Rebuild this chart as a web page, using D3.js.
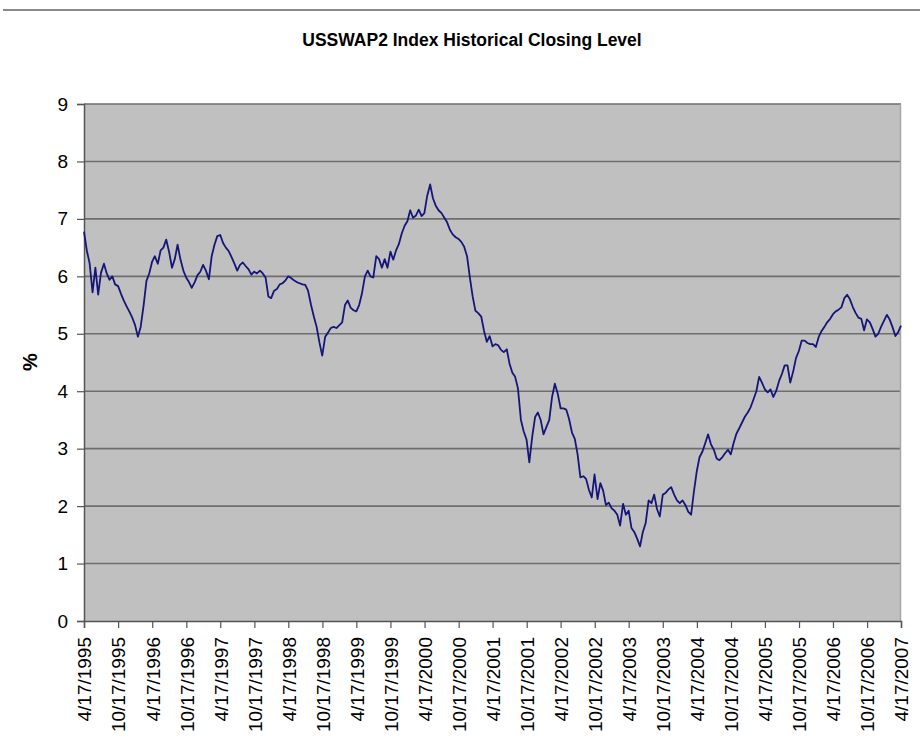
<!DOCTYPE html>
<html>
<head>
<meta charset="utf-8">
<script src="https://cdn.jsdelivr.net/npm/d3@7"></script>
<style>
  body { margin: 0; background: #fff; }
  text { font-family: "Liberation Sans", Arial, sans-serif; fill: #000; }
</style>
</head>
<body>
<div id="canvas"></div>
<script>
// DATA
const chartTitle = "USSWAP2 Index Historical Closing Level";
const yLabel = "%";
const yTicks = [0, 1, 2, 3, 4, 5, 6, 7, 8, 9];
const xTickLabels = [
  "4/17/1995", "10/17/1995", "4/17/1996", "10/17/1996", "4/17/1997", "10/17/1997",
  "4/17/1998", "10/17/1998", "4/17/1999", "10/17/1999", "4/17/2000", "10/17/2000",
  "4/17/2001", "10/17/2001", "4/17/2002", "10/17/2002", "4/17/2003", "10/17/2003",
  "4/17/2004", "10/17/2004", "4/17/2005", "10/17/2005", "4/17/2006", "10/17/2006",
  "4/17/2007"
];
// closing level, one reading about every half month from 4/17/1995
const closeLevels = [
  6.78, 6.45, 6.23, 5.72, 6.15, 5.68, 6.06, 6.22, 6.05, 5.94,
  6.00, 5.86, 5.83, 5.70, 5.58, 5.48, 5.38, 5.28, 5.15, 4.95,
  5.12, 5.50, 5.92, 6.05, 6.25, 6.35, 6.22, 6.45, 6.50, 6.64,
  6.42, 6.15, 6.30, 6.55, 6.30, 6.10, 5.98, 5.90, 5.80, 5.90,
  6.02, 6.08, 6.20, 6.10, 5.95, 6.35, 6.55, 6.70, 6.72, 6.58,
  6.50, 6.44, 6.34, 6.22, 6.10, 6.20, 6.24, 6.18, 6.12, 6.03,
  6.08, 6.05, 6.10, 6.05, 5.98, 5.65, 5.62, 5.75, 5.78, 5.86,
  5.88, 5.93, 6.00, 5.97, 5.93, 5.90, 5.88, 5.86, 5.85, 5.75,
  5.50, 5.30, 5.12, 4.85, 4.62, 4.95, 5.02, 5.10, 5.12, 5.10,
  5.15, 5.20, 5.50, 5.58, 5.45, 5.41, 5.39, 5.50, 5.70, 6.00,
  6.10, 6.00, 5.98, 6.35, 6.30, 6.15, 6.30, 6.15, 6.43, 6.29,
  6.45, 6.56, 6.75, 6.88, 6.96, 7.15, 7.02, 7.06, 7.16, 7.05,
  7.10, 7.40, 7.60, 7.36, 7.23, 7.15, 7.10, 7.02, 6.94, 6.81,
  6.73, 6.68, 6.65, 6.60, 6.52, 6.35, 5.98, 5.65, 5.40, 5.36,
  5.30, 5.05, 4.86, 4.96, 4.78, 4.82, 4.80, 4.72, 4.68, 4.73,
  4.48, 4.32, 4.25, 4.05, 3.50, 3.30, 3.16, 2.76, 3.22, 3.55,
  3.63, 3.50, 3.25, 3.38, 3.50, 3.90, 4.13, 3.95, 3.70, 3.70,
  3.68, 3.52, 3.28, 3.17, 2.90, 2.50, 2.52, 2.47, 2.28, 2.15,
  2.55, 2.12, 2.40, 2.27, 2.02, 2.06, 1.96, 1.92, 1.85, 1.66,
  2.04, 1.85, 1.92, 1.62, 1.55, 1.43, 1.30, 1.55, 1.70, 2.10,
  2.05, 2.20, 1.95, 1.82, 2.20, 2.23, 2.29, 2.33, 2.20, 2.10,
  2.05, 2.10, 2.02, 1.90, 1.85, 2.25, 2.60, 2.85, 2.95, 3.10,
  3.25, 3.08, 2.98, 2.83, 2.80, 2.85, 2.92, 2.98, 2.90, 3.10,
  3.26, 3.36, 3.46, 3.56, 3.63, 3.72, 3.86, 4.00, 4.25, 4.15,
  4.03, 3.98, 4.03, 3.90, 4.00, 4.18, 4.30, 4.45, 4.45, 4.15,
  4.35, 4.58, 4.70, 4.88, 4.88, 4.84, 4.82, 4.82, 4.77, 4.95,
  5.05, 5.12, 5.20, 5.26, 5.34, 5.39, 5.42, 5.46, 5.62, 5.68,
  5.60, 5.47, 5.36, 5.28, 5.26, 5.06, 5.25, 5.20, 5.08, 4.95,
  5.00, 5.12, 5.23, 5.33, 5.25, 5.12, 4.96, 5.03, 5.14
];

function drawGraph() {
  // DIMENSIONS
  const width = 920;
  const height = 753;
  const margin = { top: 104, right: 19, bottom: 132, left: 84 };
  const plot_width = width - margin.left - margin.right;
  const plot_height = height - margin.top - margin.bottom;

  const parseDate = d3.timeParse("%m/%d/%Y");
  const startDate = parseDate(xTickLabels[0]);
  const endDate = parseDate(xTickLabels[xTickLabels.length - 1]);

  // half-month steps from the first date
  const data = closeLevels.map((v, i) => ({
    date: d3.timeDay.offset(startDate, Math.round(i * 365.25 / 24)),
    value: v
  }));

  // CANVAS
  const canvas = d3.select("#canvas")
    .append("svg")
    .attr("width", width)
    .attr("height", height)
    .style("background", "#fff");

  // top rule
  canvas.append("line")
    .attr("x1", 3).attr("x2", width)
    .attr("y1", 10).attr("y2", 10)
    .attr("stroke", "#8a8a8a")
    .attr("stroke-width", 2);

  // TITLE
  canvas.append("text")
    .attr("x", 472)
    .attr("y", 46)
    .attr("text-anchor", "middle")
    .style("font-size", "17.5px")
    .style("font-weight", "bold")
    .text(chartTitle);

  const plot = canvas.append("g")
    .attr("transform", `translate(${margin.left}, ${margin.top})`);

  // SCALES
  const xScale = d3.scaleTime()
    .domain([startDate, endDate])
    .range([0, plot_width]);

  const yScale = d3.scaleLinear()
    .domain([0, 9])
    .range([plot_height, 0]);

  // plot area
  plot.append("rect")
    .attr("width", plot_width)
    .attr("height", plot_height)
    .attr("fill", "#c0c0c0");

  // AXIS GRID
  plot.append("g")
    .selectAll("line")
    .data(yTicks.filter(d => d > 0))
    .join("line")
    .attr("x1", 0)
    .attr("x2", plot_width)
    .attr("y1", d => yScale(d))
    .attr("y2", d => yScale(d))
    .attr("stroke", "#6e6e6e")
    .attr("stroke-width", 1.6);

  // right border
  plot.append("line")
    .attr("x1", plot_width - 0.5).attr("x2", plot_width - 0.5)
    .attr("y1", 0).attr("y2", plot_height)
    .attr("stroke", "#a6a6a6")
    .attr("stroke-width", 1.5);

  // AXES
  const xAx = d3.axisBottom(xScale)
    .tickValues(xTickLabels.map(parseDate))
    .tickFormat(d3.timeFormat("%-m/%-d/%Y"))
    .tickSize(7)
    .tickPadding(9);

  const yAx = d3.axisLeft(yScale)
    .tickValues(yTicks)
    .tickSize(7)
    .tickPadding(9);

  const xAxisHolder = plot.append("g")
    .attr("transform", `translate(0, ${plot_height})`)
    .call(xAx);

  xAxisHolder.selectAll("text")
    .attr("transform", "rotate(-90)")
    .attr("x", -16)
    .attr("y", 0)
    .attr("dy", "0.36em")
    .attr("text-anchor", "end")
    .style("font-size", "19px")
    .attr("fill", "#000");

  const yAxisHolder = plot.append("g").call(yAx);
  yAxisHolder.selectAll("text")
    .style("font-size", "19px")
    .attr("fill", "#000");

  [xAxisHolder, yAxisHolder].forEach(g => {
    g.select(".domain").attr("stroke", "#555").attr("stroke-width", 1.5);
    g.selectAll(".tick line").attr("stroke", "#555").attr("stroke-width", 1.2);
  });

  // LINE
  const line = d3.line()
    .x(d => xScale(d.date))
    .y(d => yScale(d.value));

  plot.append("path")
    .datum(data)
    .attr("d", line)
    .attr("fill", "none")
    .attr("stroke", "#15157a")
    .attr("stroke-width", 1.8)
    .attr("stroke-linejoin", "round");

  // LABELS
  canvas.append("text")
    .attr("transform", `translate(37, 362) rotate(-90)`)
    .attr("text-anchor", "middle")
    .style("font-size", "20px")
    .style("font-weight", "bold")
    .text(yLabel);
}

drawGraph();
</script>
</body>
</html>
